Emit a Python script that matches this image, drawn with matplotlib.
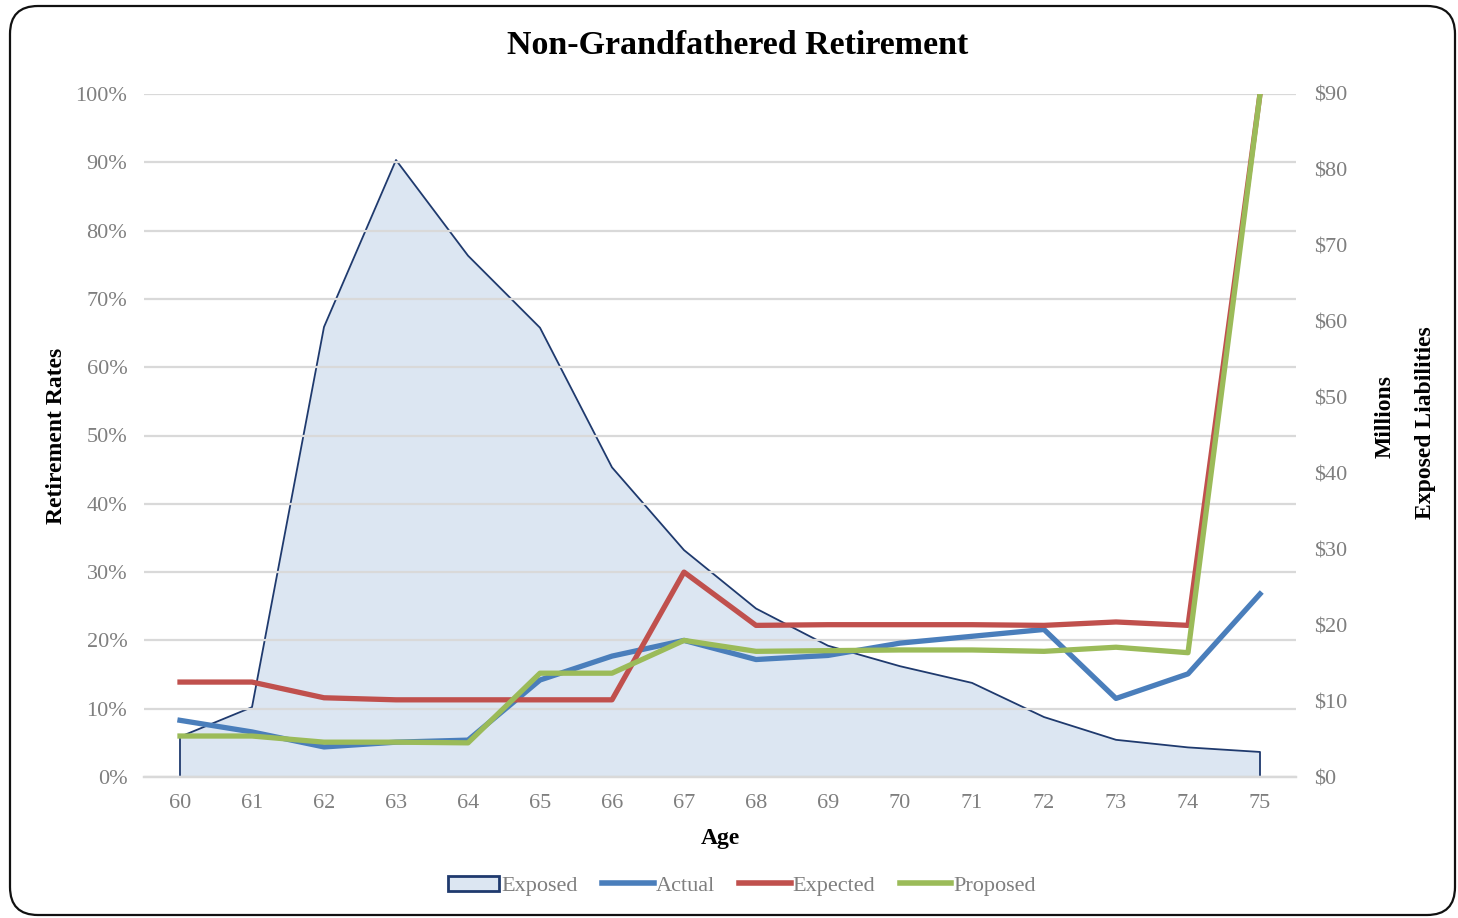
import matplotlib.pyplot as plt
from matplotlib.patches import FancyBboxPatch, Patch
from matplotlib.lines import Line2D
from matplotlib.ticker import FuncFormatter, MultipleLocator

plt.rcParams['font.family'] = ['Liberation Serif', 'DejaVu Serif']

# data
ages = list(range(60, 76))
exposed = [5.3, 9.2, 59.3, 81.3, 68.7, 59.2, 40.8, 29.9, 22.2, 17.3, 14.6, 12.4, 7.9, 4.9, 3.9, 3.3]  # $ millions
actual = [8.3, 6.6, 4.4, 5.1, 5.4, 14.2, 17.7, 20.0, 17.2, 17.8, 19.6, 20.6, 21.6, 11.5, 15.1, 26.8]
expected = [13.9, 13.9, 11.6, 11.3, 11.3, 11.3, 11.3, 30.0, 22.2, 22.3, 22.3, 22.3, 22.2, 22.7, 22.2, 100.0]
proposed = [6.0, 6.0, 5.1, 5.1, 5.0, 15.2, 15.2, 20.0, 18.4, 18.5, 18.6, 18.6, 18.4, 19.0, 18.2, 100.0]

c_act = '#4a7ebb'
c_exp = '#c0504d'
c_pro = '#9bbb59'
c_edge = '#1f3a6e'
c_fill = '#dce6f2'
grey = '#7f7f7f'

fig = plt.figure(figsize=(14.58, 9.18), dpi=100)
ax = fig.add_axes([144/1458, 1-777/918, (1296-144)/1458, (777-94)/918])
ax2 = ax.twinx()

# exposed liabilities on the right axis, behind the rate lines
ax2.fill_between(ages, 0, exposed, color=c_fill, lw=0)
ax2.plot([ages[0]] + ages + [ages[-1]], [0] + exposed + [0], color=c_edge, lw=1.3)
ax2.set_ylim(0, 90)
ax2.yaxis.set_major_locator(MultipleLocator(10))
ax2.yaxis.set_major_formatter(FuncFormatter(lambda v, p: '$%d' % v))

ax.set_zorder(ax2.get_zorder() + 1)
ax.patch.set_visible(False)
ax.plot(ages, actual, color=c_act, lw=3.8, solid_joinstyle='round')
ax.plot(ages, expected, color=c_exp, lw=3.8, solid_joinstyle='round')
ax.plot(ages, proposed, color=c_pro, lw=3.8, solid_joinstyle='round')
ax.set_ylim(0, 100)
ax.set_xlim(59.5, 75.5)
ax.set_xticks(ages)
ax.yaxis.set_major_locator(MultipleLocator(10))
ax.yaxis.set_major_formatter(FuncFormatter(lambda v, p: '%d%%' % v))
ax.grid(axis='y', color='#d9d9d9', lw=1.6)
ax.set_axisbelow(True)

for a in (ax, ax2):
    for s in ('top', 'left', 'right'):
        a.spines[s].set_visible(False)
    a.spines['bottom'].set_color('#d9d9d9')
    a.spines['bottom'].set_linewidth(1.6)
    a.tick_params(length=0, labelsize=16, labelcolor=grey)
ax.tick_params(axis='x', pad=12)
ax.tick_params(axis='y', pad=12)
ax2.tick_params(axis='y', pad=13)

ax.set_xlabel('Age', fontsize=17, fontweight='bold', labelpad=11)
ax.set_ylabel('Retirement Rates', fontsize=17, fontweight='bold', labelpad=6)
fig.text(1385/1458, 1-416/918, 'Millions', rotation=90, fontsize=17,
         fontweight='bold', ha='center', va='center')
fig.text(1425/1458, 1-423/918, 'Exposed Liabilities', rotation=90, fontsize=17,
         fontweight='bold', ha='center', va='center')

fig.text(738/1458, 1-46/918, 'Non-Grandfathered Retirement', fontsize=24.5,
         fontweight='bold', ha='center', va='center')

handles = [Patch(facecolor=c_fill, edgecolor=c_edge, lw=2),
           Line2D([], [], color=c_act, lw=4),
           Line2D([], [], color=c_exp, lw=4),
           Line2D([], [], color=c_pro, lw=4)]
fig.legend(handles, ['Exposed', 'Actual', 'Expected', 'Proposed'], loc='center',
           bbox_to_anchor=(742/1458, 1-886/918), ncol=4, frameon=False,
           fontsize=16, labelcolor=grey, handlelength=2.3, handletextpad=0.1,
           columnspacing=1.1)

# rounded outer frame
fig.patches.append(FancyBboxPatch((10, 3), 1445, 909, boxstyle='round,pad=0,rounding_size=28',
                                  transform=None, fill=False, ec='#111111', lw=1.6))

fig.savefig('out.png', dpi=100)
